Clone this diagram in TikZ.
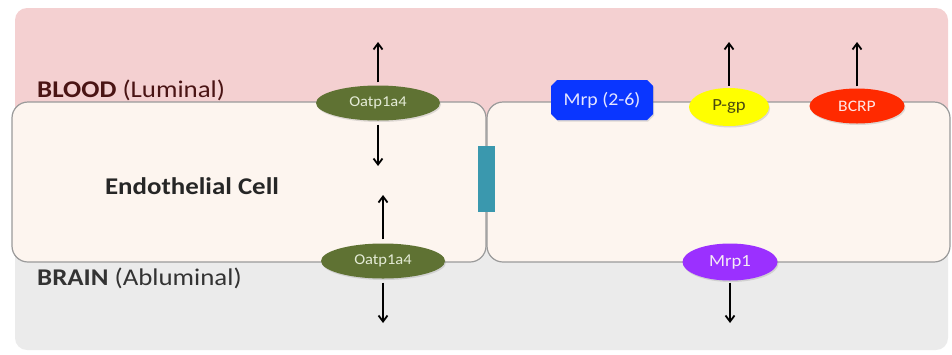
\documentclass[tikz,border=0pt]{standalone}
\usepackage{fontspec}
\setmainfont{Carlito}
\usetikzlibrary{arrows.meta,shapes.geometric,shapes.misc,shadows}
\definecolor{bloodc}{HTML}{F4D0D1}
\definecolor{brainc}{HTML}{EBEBEB}
\definecolor{cellc}{HTML}{FDF5EF}
\definecolor{memc}{HTML}{9A9A9A}
\definecolor{oatpc}{HTML}{5F7233}
\definecolor{oatptxt}{HTML}{E4EBD6}
\definecolor{mrpc}{HTML}{0A36FF}
\definecolor{pgpc}{HTML}{FFFF00}
\definecolor{bcrpc}{HTML}{FF2A00}
\definecolor{mrp1c}{HTML}{9B30FF}
\definecolor{tjc}{HTML}{3A98AE}
\definecolor{bloodtxt}{HTML}{4A1414}
\definecolor{braintxt}{HTML}{333333}
\definecolor{pgptxt}{HTML}{4A4A10}
\tikzset{
  region/.style={rounded corners=12pt, draw=none},
  cellbox/.style={rounded corners=16pt, draw=memc, line width=1.2pt, fill=cellc},
  protein/.style={ellipse, inner sep=0pt, drop shadow={opacity=0.25, shadow xshift=1pt, shadow yshift=-1.5pt}},
  flux/.style={-{Straight Barb[length=6pt,width=9pt,line width=1.8pt]}, line width=2pt, black},
  lbl/.style={font=\fontsize{24}{28}\selectfont, anchor=base west, inner sep=0pt}
}
\newcommand{\wide}[2][1.12]{\scalebox{#1}[1]{#2}}
\begin{document}
\begin{tikzpicture}[x=1pt,y=-1pt]
\useasboundingbox (0,0) rectangle (952,354);
% regions
\fill[bloodc, region] (15,8) rectangle (948,130);
\fill[brainc, region] (15,230) rectangle (948,350);
% cells
\draw[cellbox] (12,102) rectangle (486,262);
\draw[cellbox] (487,102) rectangle (950,262);
% tight junction
\node[fill=tjc, minimum width=17pt, minimum height=66pt, inner sep=0pt] (tj) at (486.5,179) {};
% labels
\node[lbl] (blood) at (37,97) {\wide{\textcolor{bloodtxt}{\textbf{BLOOD} (Luminal)}}};
\node[lbl] (brain) at (37,285) {\wide{\textcolor{braintxt}{\textbf{BRAIN} (Abluminal)}}};
\node[font=\bfseries\fontsize{24}{28}\selectfont, text=black!85] (cell) at (192,186) {\wide{Endothelial Cell}};
% proteins
\node[protein, fill=oatpc, text=oatptxt, minimum width=124pt, minimum height=35pt, font=\fontsize{15}{18}\selectfont] (oatpT) at (378,103) {\wide[1.1]{Oatp1a4}};
\node[protein, fill=oatpc, text=oatptxt, minimum width=124pt, minimum height=35pt, font=\fontsize{15}{18}\selectfont] (oatpB) at (383,261) {\wide[1.1]{Oatp1a4}};
\node[protein, chamfered rectangle, chamfered rectangle xsep=3pt, chamfered rectangle ysep=3pt, fill=mrpc, text=white!90!blue, minimum width=102pt, minimum height=40pt, font=\fontsize{18}{21}\selectfont] (mrp) at (602,100) {\wide[1.1]{Mrp (2-6)}};
\node[protein, fill=pgpc, text=pgptxt, minimum width=80pt, minimum height=38pt, font=\fontsize{17}{20}\selectfont] (pgp) at (729,107) {\wide[1.1]{P-gp}};
\node[protein, fill=bcrpc, text=white!90!red, minimum width=95pt, minimum height=35pt, font=\fontsize{16}{19}\selectfont] (bcrp) at (857,106) {\wide[1.1]{BCRP}};
\node[protein, fill=mrp1c, text=white!92!violet, minimum width=95pt, minimum height=37pt, font=\fontsize{17}{20}\selectfont] (mrp1) at (730,262) {\wide[1.1]{Mrp1}};
% arrow end points
\coordinate (oT1) at (378,42);
\coordinate (oT2) at (378,166);
\coordinate (oB1) at (383,195);
\coordinate (oB2) at (383,323);
\coordinate (pg1) at (729,42);
\coordinate (bc1) at (857,42);
\coordinate (m11) at (730,323);
% fluxes
\draw[flux] ([yshift=3pt]oatpT.north) -- (oT1);
\draw[flux] ([yshift=-4pt]oatpT.south) -- (oT2);
\draw[flux] ([yshift=4pt]oatpB.north) -- (oB1);
\draw[flux] ([yshift=-4pt]oatpB.south) -- (oB2);
\draw[flux] ([yshift=2pt]pgp.north) -- (pg1);
\draw[flux] ([yshift=2pt]bcrp.north) -- (bc1);
\draw[flux] ([yshift=-2pt]mrp1.south) -- (m11);
\end{tikzpicture}
\end{document}
